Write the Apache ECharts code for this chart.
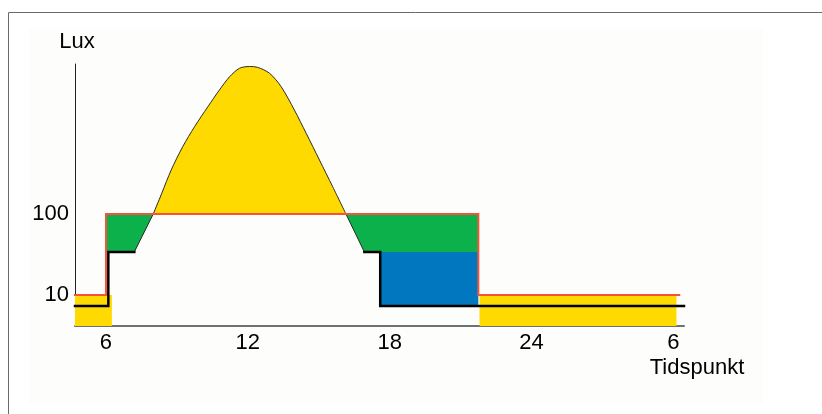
<!DOCTYPE html>
<html>
<head>
<meta charset="utf-8">
<script src="https://cdn.jsdelivr.net/npm/echarts@6/dist/echarts.min.js"></script>
<style>
  html, body { margin: 0; padding: 0; background: #fff; }
  #chart { width: 822px; height: 414px; }
</style>
</head>
<body>
<div id="chart"></div>
<script>
  'use strict'

  // x = time of day (hours, 30 = 6 next morning), y = lux (log scale)
  var xTickHours = [6, 12, 18, 24, 30];
  var xTickText = ['6', '12', '18', '24', '6'];
  var yTickValues = [10, 100];

  var sunCurve = [
    [8.0, 100], [8.36, 180], [8.76, 350], [9.25, 680], [9.75, 1200],
    [10.31, 2110], [10.8, 3400], [11.23, 4950], [11.65, 6300], [12.07, 6620],
    [12.41, 6470], [12.92, 5460], [13.41, 3730], [13.97, 1920], [14.47, 990],
    [15.03, 464], [15.59, 217], [16.15, 100]
  ];
  var slopeDawn = [[7.2, 34], [8.0, 100]];
  var slopeDusk = [[16.15, 100], [16.93, 34]];
  var redLimit = [[4.69, 10], [6.0, 10], [6.0, 100], [21.75, 100], [21.75, 10], [30.25, 10]];
  var blackDawn = [[4.69, 7.3], [6.1, 7.3], [6.1, 34], [7.2, 34]];
  var blackDusk = [[16.93, 34], [17.6, 34], [17.6, 7.3], [30.45, 7.3]];
  var greenDawn = [[6.0, 34], [7.2, 34], [8.0, 100]];
  var greenDusk = [[16.15, 100], [16.93, 34], [21.75, 34]];
  var blueDusk = [[17.6, 34], [21.75, 34]];
  var yellowMorning = [[4.69, 10], [6.25, 10]];
  var yellowNight = [[21.8, 10], [30.13, 10]];
  var dayLevel = 100;
  var nightLevel = 7.3;

  var font = "'Liberation Sans', Arial, sans-serif";

  function fill(data, color, origin, z, smooth) {
    return {
      type: 'line', data: data, showSymbol: false, silent: true, z: z,
      smooth: smooth || false,
      lineStyle: { width: 0 },
      areaStyle: { color: color, opacity: 1, origin: origin }
    };
  }
  function stroke(data, color, width, z, smooth) {
    return {
      type: 'line', data: data, showSymbol: false, silent: true, z: z,
      smooth: smooth || false,
      lineStyle: { color: color, width: width, cap: 'square', join: 'miter' }
    };
  }

  var option = {
    animation: false,
    backgroundColor: '#ffffff',
    grid: { left: 75, right: 138, top: 64, bottom: 88, outerBoundsMode: 'none' },
    xAxis: {
      type: 'value',
      min: 4.69,
      max: 30.45,
      axisLine: { show: true, onZero: false, lineStyle: { color: '#707070', width: 2 } },
      axisTick: { show: false },
      splitLine: { show: false },
      axisLabel: {
        customValues: xTickHours,
        margin: 6,
        fontSize: 22,
        fontFamily: font,
        color: '#000',
        formatter: function (v) {
          var i = xTickHours.indexOf(v);
          return i < 0 ? '' : xTickText[i];
        }
      }
    },
    yAxis: {
      type: 'log',
      logBase: 10,
      min: 4.14,
      max: 7110,
      axisLine: { show: true, lineStyle: { color: '#222', width: 1 } },
      axisTick: { show: false },
      splitLine: { show: false },
      axisLabel: {
        margin: 6,
        fontSize: 22,
        fontFamily: font,
        color: '#000',
        showMinLabel: false,
        showMaxLabel: false,
        formatter: function (v) {
          var r = Math.round(v);
          return yTickValues.indexOf(r) < 0 ? '' : String(r);
        }
      }
    },
    graphic: [
      { type: 'rect', z: -10, shape: { x: 29, y: 27, width: 734, height: 377 },
        style: { fill: '#fdfdfb' } },
      { type: 'rect', z: -9, shape: { x: 8.5, y: 12.5, width: 900, height: 500 },
        style: { fill: 'none', stroke: '#6a6a6a', lineWidth: 1 } },
      { type: 'text', x: 77, y: 41.5,
        style: { text: 'Lux', font: '22px ' + font, fill: '#000', align: 'center', verticalAlign: 'middle' } },
      { type: 'text', x: 697, y: 368,
        style: { text: 'Tidspunkt', font: '22px ' + font, fill: '#000', align: 'center', verticalAlign: 'middle' } }
    ],
    series: [
      fill(yellowMorning, '#ffda00', 'start', 1),
      fill(yellowNight, '#ffda00', 'start', 1),
      fill(sunCurve, '#ffda00', dayLevel, 1, 0.3),
      fill(greenDawn, '#0db14b', dayLevel, 2),
      fill(greenDusk, '#0db14b', dayLevel, 2),
      fill(blueDusk, '#0077bf', nightLevel, 2),
      stroke(sunCurve, '#2a2a2a', 1, 3, 0.3),
      stroke(slopeDawn, '#2a2a2a', 1, 3),
      stroke(slopeDusk, '#2a2a2a', 1, 3),
      stroke(blackDawn, '#000', 2.5, 4),
      stroke(blackDusk, '#000', 2.5, 4),
      stroke(redLimit, '#f4553a', 2, 5)
    ]
  };

  var chart = echarts.init(document.getElementById('chart'), null, { renderer: 'canvas' });
  chart.setOption(option);
</script>
</body>
</html>
